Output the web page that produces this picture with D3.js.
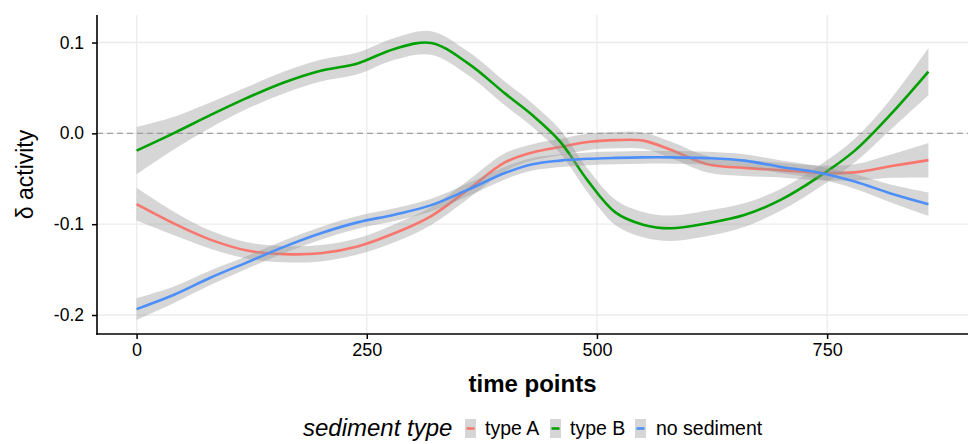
<!DOCTYPE html>
<html>
<head>
<meta charset="utf-8">
<script src="https://cdn.jsdelivr.net/npm/d3@7"></script>
<style>
  html, body { margin: 0; padding: 0; background: #fff; }
  svg { display: block; font-family: Arial, "Liberation Sans", sans-serif; }
</style>
</head>
<body>
<svg id="chart" width="968" height="444"></svg>
<script>
// ---- data ----
const timePoints = [0, 40, 80, 120, 160, 200, 240, 280, 320, 360, 400, 430, 460, 490, 520, 550, 580, 620, 660, 700, 740, 780, 820, 860];

const typeA = [-0.078, -0.099, -0.117, -0.129, -0.133, -0.132, -0.1245, -0.110, -0.091, -0.062, -0.032, -0.021, -0.015, -0.0095, -0.0075, -0.008, -0.018, -0.034, -0.038, -0.0405, -0.0435, -0.043, -0.036, -0.0295];
const typeASe = [0.018, 0.013, 0.010, 0.009, 0.009, 0.009, 0.009, 0.010, 0.010, 0.010, 0.010, 0.009, 0.009, 0.009, 0.009, 0.009, 0.009, 0.009, 0.009, 0.008, 0.008, 0.009, 0.013, 0.019];

const typeB = [-0.019, 0.000, 0.020, 0.039, 0.056, 0.069, 0.077, 0.093, 0.0995, 0.077, 0.044, 0.020, -0.009, -0.052, -0.087, -0.1005, -0.1045, -0.099, -0.090, -0.073, -0.0485, -0.019, 0.022, 0.068];
const typeBSe = [0.026, 0.018, 0.014, 0.012, 0.012, 0.012, 0.012, 0.012, 0.013, 0.013, 0.013, 0.013, 0.013, 0.013, 0.014, 0.014, 0.014, 0.014, 0.013, 0.012, 0.012, 0.013, 0.017, 0.026];

const noSediment = [-0.1935, -0.178, -0.159, -0.142, -0.125, -0.110, -0.098, -0.0895, -0.079, -0.062, -0.0437, -0.034, -0.030, -0.028, -0.027, -0.0264, -0.0264, -0.0273, -0.030, -0.037, -0.043, -0.053, -0.0665, -0.078];
const noSedimentSe = [0.012, 0.009, 0.008, 0.007, 0.007, 0.007, 0.007, 0.007, 0.007, 0.007, 0.007, 0.007, 0.007, 0.007, 0.007, 0.007, 0.007, 0.007, 0.007, 0.007, 0.007, 0.008, 0.010, 0.013];

const seriesNames = ["type A", "type B", "no sediment"];
const seriesColors = ["#F8766D", "#00A000", "#4D8FFA"];
const xTicks = [0, 250, 500, 750];
const xTickLabels = ["0", "250", "500", "750"];
const yTicks = [0.1, 0.0, -0.1, -0.2];
const yTickLabels = ["0.1", "0.0", "-0.1", "-0.2"];
const xTitle = "time points";
const yTitle = "\u03B4 activity";
const legendTitle = "sediment type";

// ---- build ----
const seriesVals = [typeA, typeB, noSediment];
const seriesSe = [typeASe, typeBSe, noSedimentSe];
const series = seriesNames.map((name, i) => ({
  name, color: seriesColors[i],
  points: timePoints.map((t, j) => ({ t, v: seriesVals[i][j], se: seriesSe[i][j] }))
}));

const svg = d3.select("#chart");
const pL = 97, pR = 968, pT = 15, pB = 334;

const x = d3.scaleLinear().domain([-43, 903]).range([pL, pR]);
const y = d3.scaleLinear().domain([-0.2209, 0.1303]).range([pB, pT]);

// grid
const grid = svg.append("g");
grid.selectAll("line.vg").data(xTicks).join("line")
  .attr("x1", d => x(d)).attr("x2", d => x(d))
  .attr("y1", pT).attr("y2", pB)
  .attr("stroke", "#ebebeb").attr("stroke-width", 1.3);
grid.selectAll("line.hg").data(yTicks).join("line")
  .attr("x1", pL).attr("x2", pR)
  .attr("y1", d => y(d)).attr("y2", d => y(d))
  .attr("stroke", "#ebebeb").attr("stroke-width", 1.3);

// zero reference line
svg.append("line")
  .attr("x1", pL).attr("x2", pR)
  .attr("y1", y(0)).attr("y2", y(0))
  .attr("stroke", "#a0a0a0").attr("stroke-width", 1.2)
  .attr("stroke-dasharray", "6,4");

// smooths
const area = d3.area()
  .x(d => x(d.t)).y0(d => y(d.v - d.se)).y1(d => y(d.v + d.se))
  .curve(d3.curveCatmullRom.alpha(0.5));
const line = d3.line()
  .x(d => x(d.t)).y(d => y(d.v))
  .curve(d3.curveCatmullRom.alpha(0.5));

const sg = svg.append("g");
series.forEach(s => {
  sg.append("path").datum(s.points)
    .attr("d", area)
    .attr("fill", "#999999").attr("fill-opacity", 0.4);
  sg.append("path").datum(s.points)
    .attr("d", line)
    .attr("fill", "none").attr("stroke", s.color).attr("stroke-width", 2.6);
});

// axes
const xAxis = d3.axisBottom(x).tickValues(xTicks)
  .tickFormat((d, i) => xTickLabels[i]).tickSize(5).tickPadding(4);
const yAxis = d3.axisLeft(y).tickValues(yTicks)
  .tickFormat((d, i) => yTickLabels[i]).tickSize(5).tickPadding(8);

const gx = svg.append("g").attr("transform", `translate(0,${pB})`).call(xAxis);
const gy = svg.append("g").attr("transform", `translate(${pL},0)`).call(yAxis);
[gx, gy].forEach(g => {
  g.select(".domain").remove();
  g.selectAll(".tick line").attr("stroke", "#000").attr("stroke-width", 1.5);
  g.selectAll(".tick text").attr("fill", "#000")
    .style("font-family", "Arial, 'Liberation Sans', sans-serif");
});
gx.selectAll(".tick text").style("font-size", "18px");
gy.selectAll(".tick text").style("font-size", "17.5px");

// axis lines
svg.append("line").attr("x1", pL).attr("x2", pL).attr("y1", pT).attr("y2", pB + 0.75)
  .attr("stroke", "#000").attr("stroke-width", 1.6);
svg.append("line").attr("x1", pL - 0.75).attr("x2", pR).attr("y1", pB).attr("y2", pB)
  .attr("stroke", "#000").attr("stroke-width", 1.6);

// titles
svg.append("text").text(xTitle)
  .attr("x", (pL + pR) / 2).attr("y", 392)
  .attr("text-anchor", "middle")
  .style("font-size", "24px").style("font-weight", "bold");
svg.append("text").text(yTitle)
  .attr("transform", `translate(33,${(pT + pB) / 2}) rotate(-90)`)
  .attr("text-anchor", "middle")
  .style("font-size", "23px");

// legend
const lg = svg.append("g");
lg.append("text").text(legendTitle)
  .attr("x", 303).attr("y", 436)
  .style("font-size", "24px").style("font-style", "italic");
const keyX = [465, 550, 635];
const labelX = [485, 570, 656];
series.forEach((s, i) => {
  lg.append("rect")
    .attr("x", keyX[i]).attr("y", 419).attr("width", 11).attr("height", 19)
    .attr("fill", "#999999").attr("fill-opacity", 0.4);
  lg.append("line")
    .attr("x1", keyX[i] + 1.5).attr("x2", keyX[i] + 9.5)
    .attr("y1", 428.5).attr("y2", 428.5)
    .attr("stroke", s.color).attr("stroke-width", 2.6);
  lg.append("text").text(s.name)
    .attr("x", labelX[i]).attr("y", 435)
    .style("font-size", "19.5px");
});
</script>
</body>
</html>
